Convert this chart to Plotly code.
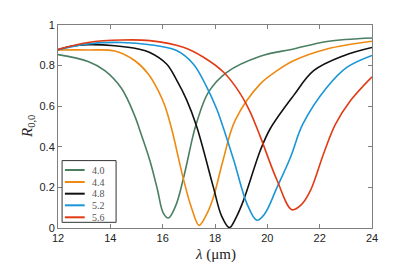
import plotly.graph_objects as go

lam_40 = [12, 13.15, 13.79, 14.43, 14.94, 15.13, 15.51, 15.8, 16.02, 16.22, 16.5, 16.79, 17.17, 17.30, 17.75, 18.45, 19.73, 21.0, 22.28, 24]
r_40 = [0.854, 0.82, 0.775, 0.687, 0.55, 0.48, 0.333, 0.19, 0.075, 0.049, 0.11, 0.243, 0.46, 0.52, 0.669, 0.767, 0.846, 0.882, 0.919, 0.936]

lam_44 = [12, 13.15, 14.17, 14.94, 15.45, 15.83, 16.09, 16.34, 16.79, 17.1, 17.39, 17.65, 17.94, 18.3, 18.77, 19.73, 20.37, 21.0, 22.28, 24]
r_44 = [0.877, 0.877, 0.872, 0.824, 0.759, 0.677, 0.6, 0.49, 0.243, 0.1, 0.013, 0.06, 0.152, 0.33, 0.53, 0.71, 0.775, 0.824, 0.882, 0.92]

lam_48 = [12, 12.5, 13.15, 14.17, 15.07, 15.51, 16.15, 16.53, 16.92, 17.30, 17.94, 18.25, 18.55, 18.8, 19.09, 19.73, 20.11, 21.0, 21.77, 22.92, 24]
r_48 = [0.878, 0.895, 0.903, 0.898, 0.882, 0.865, 0.808, 0.73, 0.63, 0.50, 0.20, 0.06, 0.002, 0.05, 0.136, 0.382, 0.489, 0.652, 0.775, 0.849, 0.889]

lam_52 = [12, 13.15, 14.43, 15.51, 16.53, 17.17, 17.69, 18.07, 18.25, 18.72, 19.22, 19.6, 19.9, 20.37, 20.89, 21.35, 22.28, 23.05, 24]
r_52 = [0.878, 0.907, 0.914, 0.903, 0.874, 0.808, 0.693, 0.585, 0.52, 0.333, 0.12, 0.038, 0.07, 0.20, 0.35, 0.51, 0.693, 0.792, 0.85]

lam_56 = [12, 13.15, 14.43, 15.51, 16.79, 17.56, 18.33, 18.97, 19.35, 19.73, 20.37, 20.94, 21.3, 21.65, 22.15, 22.6, 23.18, 24]
r_56 = [0.88, 0.914, 0.926, 0.923, 0.89, 0.841, 0.767, 0.661, 0.570, 0.45, 0.235, 0.09, 0.115, 0.185, 0.366, 0.51, 0.628, 0.745]

labels = ["4.0", "4.4", "4.8", "5.2", "5.6"]
colors = ["#4a7f62", "#ee8a12", "#111111", "#1a96d6", "#e13a14"]
series = [(lam_40, r_40), (lam_44, r_44), (lam_48, r_48), (lam_52, r_52), (lam_56, r_56)]

x_ticks = [12, 14, 16, 18, 20, 22, 24]
y_ticks = [0, 0.2, 0.4, 0.6, 0.8, 1]
y_ticktext = ["0", "0.2", "0.4", "0.6", "0.8", "1"]

fig = go.Figure()
for (xs, ys), name, c in zip(series, labels, colors):
    fig.add_trace(go.Scatter(x=xs, y=ys, mode="lines", name=name, showlegend=False,
                             line=dict(color=c, width=1.6, shape="spline", smoothing=1.0)))

axis_common = dict(showline=True, linecolor="#7f7f7f", linewidth=1, mirror="ticks",
                   ticks="inside", ticklen=4, tickcolor="#7f7f7f", showgrid=False,
                   zeroline=False, automargin=False,
                   tickfont=dict(family="Liberation Sans, Arial", size=11, color="#222"))

# custom compact legend (paper coordinates)
leg_x0, leg_x1, leg_y0, leg_y1 = 0.013, 0.185, 0.028, 0.332
entry_y = [0.2857, 0.2266, 0.1690, 0.1118, 0.0527]
shapes = [dict(type="rect", xref="paper", yref="paper", x0=leg_x0, x1=leg_x1, y0=leg_y0, y1=leg_y1,
               line=dict(color="#333", width=1), fillcolor="white", layer="above")]
annotations = []
for ey, name, c in zip(entry_y, labels, colors):
    shapes.append(dict(type="line", xref="paper", yref="paper", x0=0.022, x1=0.085, y0=ey, y1=ey,
                       line=dict(color=c, width=2), layer="above"))
    annotations.append(dict(xref="paper", yref="paper", x=0.105, y=ey, xanchor="left", yanchor="middle",
                            text=name, showarrow=False, borderpad=0,
                            font=dict(family="Liberation Serif", size=10, color="#555")))

annotations.append(dict(xref="paper", yref="paper", x=-0.097, y=0.5, xanchor="center", yanchor="middle",
                        text="<i>R</i><sub>0,0</sub>", textangle=-90, showarrow=False,
                        font=dict(family="Liberation Serif", size=15, color="#222")))
annotations.append(dict(xref="paper", yref="paper", x=0.5, y=-0.133, xanchor="center", yanchor="middle",
                        text="<i>λ</i> (μm)", showarrow=False,
                        font=dict(family="Liberation Serif", size=15, color="#222")))

fig.update_layout(
    width=395, height=275,
    margin=dict(l=58, r=23, t=25, b=47),
    paper_bgcolor="white", plot_bgcolor="white",
    xaxis=dict(range=[12, 24], tickvals=x_ticks, ticktext=[str(t) for t in x_ticks], **axis_common),
    yaxis=dict(range=[0, 1], tickvals=y_ticks, ticktext=y_ticktext, **axis_common),
    shapes=shapes, annotations=annotations,
    showlegend=False,
)

fig.write_html("out.html", config={"displayModeBar": False},
               post_script="document.body.style.margin='0px';document.body.style.padding='0px';")
